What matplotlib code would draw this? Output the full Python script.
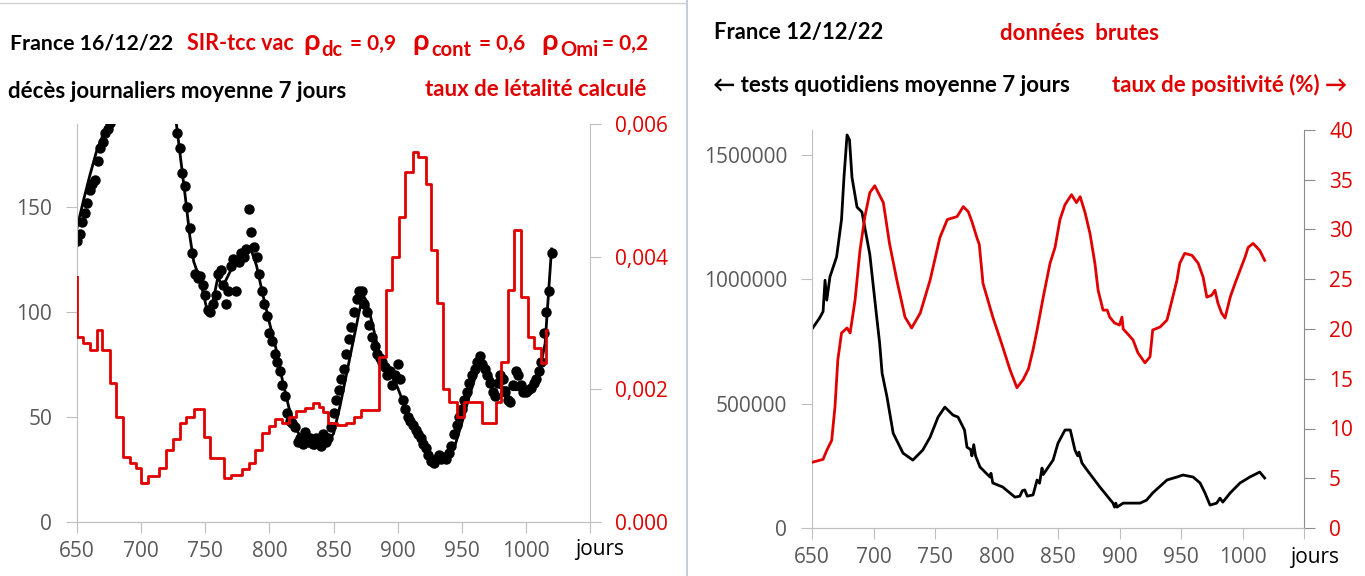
import matplotlib
matplotlib.use('Agg')
import matplotlib.pyplot as plt
from matplotlib.lines import Line2D
import numpy as np

RED = '#e00000'
GREY = '#595959'
SPINE = '#bfbfbf'

# ---- panneau gauche : décès (points + modèle) et taux de létalité ----
model_days = [650, 655, 660, 665, 670, 676, 685, 700, 715, 727,
              731, 735, 738, 741, 745, 748, 751, 754, 757, 760,
              763, 766, 770, 775, 780, 785, 790, 795, 800, 805,
              810, 815, 820, 825, 830, 835, 840, 845, 850, 855,
              860, 865, 870, 873, 876, 880, 885, 890, 895, 900,
              905, 910, 915, 920, 925, 930, 935, 940, 945, 950,
              955, 960, 963, 966, 970, 975, 980, 985, 990, 995,
              1000, 1005, 1010, 1015, 1020]
model_deaths = [140, 153, 165, 176, 184, 192, 215, 235, 225, 192,
                172, 152, 136, 124, 117, 110, 102, 100, 108, 117,
                112, 115, 120, 123, 126, 131, 122, 108, 95, 83,
                68, 55, 45, 40, 37, 35, 36, 38, 42, 55,
                70, 85, 100, 108, 105, 95, 82, 75, 70, 64,
                56, 48, 42, 37, 32, 29, 29, 31, 37, 47,
                58, 68, 73, 74, 72, 67, 64, 64, 63, 63,
                63, 65, 70, 85, 130]

# observed deaths, one dot every 2 days (the 678-726 stretch is off the top)
dot_days = np.concatenate([np.arange(650, 677, 2), np.arange(728, 1021, 2)])
dot_deaths = [134, 137, 143, 147, 152, 158, 161, 163, 172, 178, 181, 185, 187, 190,
              185, 178, 166, 160, 150, 140, 128, 118, 116, 117,
              113, 108, 101, 100, 104, 108, 118, 120, 113, 104,
              110, 122, 125, 110, 124, 128, 126, 130, 149, 138,
              131, 126, 118, 110, 104, 98, 90, 86, 80, 76,
              72, 65, 60, 52, 48, 47, 45, 38, 40, 37,
              43, 38, 40, 37, 40, 38, 36, 42, 38, 40,
              45, 52, 58, 63, 68, 73, 80, 87, 93, 100,
              106, 110, 110, 104, 100, 94, 88, 84, 80, 78,
              76, 74, 70, 72, 65, 70, 75, 68, 58, 54,
              50, 48, 46, 44, 42, 40, 37, 35, 32, 29,
              28, 30, 32, 30, 31, 30, 33, 36, 42, 46,
              50, 54, 58, 62, 66, 70, 73, 76, 79, 75,
              73, 70, 66, 62, 60, 66, 70, 68, 62, 58,
              57, 65, 72, 70, 65, 62, 62, 63, 64, 66,
              68, 72, 76, 90, 100, 110, 128]

leth_days = [650, 650.3, 654.7, 660, 665.6, 669.3, 675.5, 680.7, 686, 691,
             696, 700, 705, 714, 719.5, 724.6, 730, 735, 741, 749,
             754, 765, 770, 779, 784, 789, 794, 799.5, 804.6, 810,
             815, 821, 827.6, 834, 839, 841.8, 845.7, 853, 860, 866,
             871.5, 885.4, 890.6, 896, 901, 906, 911.7, 915.6, 922, 925.8,
             931, 935, 940, 946.6, 951.8, 966, 976.6, 980.5, 985.7, 990.9,
             996, 1001.3, 1006.5, 1011.7, 1015.6, 1016.5]
leth_rate = [0.0037, 0.00279, 0.0027, 0.00259, 0.00289, 0.00259, 0.0021, 0.00158, 0.00098, 0.00089,
             0.00081, 0.00059, 0.00069, 0.00081, 0.00109, 0.00125, 0.0015, 0.00158, 0.0017, 0.00128,
             0.00096, 0.00066, 0.00071, 0.0008, 0.00089, 0.00109, 0.00134, 0.00145, 0.00155, 0.0015,
             0.00158, 0.00167, 0.00172, 0.0018, 0.00173, 0.00166, 0.00149, 0.00146, 0.0015, 0.00158,
             0.00169, 0.00249, 0.0035, 0.004, 0.0046, 0.00528, 0.00558, 0.0055, 0.0051, 0.0041,
             0.0033, 0.002, 0.00181, 0.00158, 0.00181, 0.0015, 0.00181, 0.00241, 0.0035, 0.0044,
             0.00339, 0.00279, 0.00262, 0.0024, 0.00289, 0.00289]

# ---- panneau droit : tests quotidiens et taux de positivité ----
test_days = [650, 656, 659, 660.6, 662, 664.6, 670, 674, 676, 678.5,
             680.5, 682.5, 686.6, 690.6, 697, 702.6, 705, 707, 711, 716,
             724, 732, 740, 746, 752.5, 758, 764.6, 768.7, 774, 776,
             779, 780, 781.5, 783, 786.6, 794.7, 795.5, 797, 805, 815,
             819, 821, 823, 825, 829.7, 833, 835, 837, 838, 846,
             850, 855.7, 860, 863.8, 866, 867, 869.5, 873.6, 884, 894.7,
             896, 897, 898, 903, 916.7, 922, 927, 938.6, 946.7, 951.6,
             959.8, 965.5, 969.5, 973.6, 979, 981.7, 984, 990, 998, 1006,
             1014, 1018]
tests = [800e3, 843e3, 870e3, 996e3, 916e3, 1010e3, 1090e3, 1240e3, 1410e3, 1580e3,
         1560e3, 1410e3, 1290e3, 1270e3, 1100e3, 848e3, 743e3, 622e3, 526e3, 381e3,
         301e3, 273e3, 313e3, 365e3, 446e3, 486e3, 454e3, 446e3, 394e3, 325e3,
         315e3, 290e3, 335e3, 290e3, 245e3, 205e3, 220e3, 181e3, 165e3, 124e3,
         128e3, 150e3, 153e3, 128e3, 133e3, 193e3, 180e3, 241e3, 215e3, 273e3,
         341e3, 394e3, 394e3, 313e3, 290e3, 305e3, 261e3, 233e3, 165e3, 100e3,
         84e3, 100e3, 84e3, 100e3, 100e3, 112e3, 141e3, 193e3, 205e3, 213e3,
         205e3, 181e3, 141e3, 92e3, 100e3, 120e3, 104e3, 141e3, 181e3, 205e3,
         225e3, 201e3]

pos_days = [650, 659, 662, 666, 668.7, 671, 674, 678.5, 681, 685,
            689, 693, 697, 701, 708, 713, 719, 725.6, 731, 738,
            746, 754, 760, 768, 773, 777, 780, 784, 786, 789,
            797, 804, 811, 816.6, 821.6, 826, 829.7, 833, 838, 843.5,
            847.6, 851.6, 855.7, 861, 865, 868, 872, 876, 880, 882.6,
            886.6, 890, 892, 896, 900, 902, 903, 906, 911, 915,
            920.7, 924.8, 927, 933, 938.6, 942.7, 946.7, 949, 953, 959,
            964, 968, 971, 975, 977.6, 980, 983, 985.8, 990, 994,
            998, 1002, 1004.6, 1008.6, 1014, 1018]
positivity = [6.6, 6.9, 7.8, 8.8, 12.2, 16.9, 19.6, 20.1, 19.6, 22.9,
              27.9, 31.3, 33.7, 34.4, 32.7, 28.6, 24.9, 21.2, 20.1, 21.6,
              24.9, 29.2, 31.0, 31.3, 32.3, 31.8, 30.8, 29.2, 28.5, 24.6,
              21.2, 18.6, 15.9, 14.1, 14.9, 16.0, 17.9, 19.9, 23.2, 26.6,
              28.2, 31.0, 32.5, 33.5, 32.7, 33.3, 31.7, 29.6, 26.6, 23.9,
              21.9, 21.9, 21.2, 20.6, 20.4, 21.2, 20.0, 19.6, 18.9, 17.6,
              16.6, 17.2, 19.9, 20.2, 20.9, 22.9, 24.9, 26.6, 27.6, 27.4,
              26.6, 25.2, 23.2, 23.4, 23.9, 22.6, 21.6, 21.1, 23.2, 24.6,
              25.9, 27.2, 28.2, 28.6, 27.9, 26.9]

x_ticks = list(range(650, 1051, 50))
x_labels = [str(t) for t in x_ticks[:-1]] + ['']
leth_ticks = [0, 0.002, 0.004, 0.006]
leth_labels = ['0.000', '0,002', '0,004', '0,006']

plt.rcParams['font.family'] = ['Lato', 'DejaVu Sans']

W, H = 1365, 576
fig = plt.figure(figsize=(W / 100, H / 100), dpi=100)


def box(x0, y0, x1, y1):
    return [x0 / W, 1 - y1 / H, (x1 - x0) / W, (y1 - y0) / H]


def ftext(x, y, s, size=16, color='black', weight='bold', ha='left', **kw):
    fig.text(x / W, 1 - y / H, s, size=size, color=color, weight=weight,
             ha=ha, va='center', **kw)


def style(ax, axr, right_color):
    for a in (ax, axr):
        a.spines['top'].set_visible(False)
        a.spines['bottom'].set_color(SPINE)
    ax.spines['right'].set_visible(False)
    axr.spines['left'].set_visible(False)
    ax.spines['left'].set_color(SPINE)
    axr.spines['right'].set_color(right_color)
    ax.tick_params(axis='both', direction='out', length=8, color=SPINE,
                   labelcolor=GREY, labelsize=15, labelfontfamily='Open Sans')
    ax.tick_params(axis='y', pad=10)
    ax.tick_params(axis='x', pad=6)
    axr.tick_params(axis='y', direction='out', length=8, color=right_color,
                    labelcolor=RED, labelsize=15, pad=10, labelfontfamily='Open Sans')
    ax.set_xlim(650, 1050)
    ax.set_xticks(x_ticks)
    ax.set_xticklabels(x_labels)


# ---- gauche ----
ax1 = fig.add_axes(box(77, 124, 590, 522))
ax1r = ax1.twinx()
ax1.plot(model_days, model_deaths, color='black', lw=2)
ax1.plot(dot_days, dot_deaths, 'o', color='black', ms=6.5, mec='black')
ax1r.step(leth_days, leth_rate, where='post', color=RED, lw=2)
ax1.set_ylim(0, 189.5)
ax1.set_yticks([0, 50, 100, 150])
ax1r.set_ylim(0, 0.006)
ax1r.set_yticks(leth_ticks)
ax1r.set_yticklabels(leth_labels)
style(ax1, ax1r, SPINE)

# ---- droite ----
ax2 = fig.add_axes(box(812, 130, 1304, 528))
ax2r = ax2.twinx()
ax2.plot(test_days, tests, color='black', lw=2)
ax2r.plot(pos_days, positivity, color=RED, lw=2)
ax2.set_ylim(0, 1.6e6)
ax2.set_yticks([0, 500000, 1000000, 1500000])
ax2.set_yticklabels(['0', '500000', '1000000', '1500000'])
ax2r.set_ylim(0, 40)
ax2r.set_yticks(range(0, 41, 5))
style(ax2, ax2r, '#8c8c8c')

# ---- textes ----
ftext(10, 44, 'France 16/12/22', size=15.3)
ftext(187, 44, 'SIR-tcc vac', color=RED, size=15.5)
for x_rho, sub, x_sub, val, x_end in [(303, 'dc', 321, '= 0,9', 396),
                                      (412, 'cont', 431, '= 0,6', 525),
                                      (541, 'Omi', 560, '= 0,2', 648)]:
    ftext(x_rho, 42, 'ρ', size=21, color=RED)
    ftext(x_sub, 50, sub, size=14.5, color=RED)
    ftext(x_end, 44, val, color=RED, size=15, ha='right')
ftext(8, 92, 'décès journaliers moyenne 7 jours')
ftext(425, 90, 'taux de létalité calculé', color=RED)

ftext(714, 33, 'France 12/12/22', size=15.8)
ftext(1000, 33, 'données  brutes', color=RED)
ftext(713, 85, '← tests quotidiens moyenne 7 jours')
ftext(1112, 85, 'taux de positivité (%) →', color=RED)

ftext(575, 550, 'jours', size=15, weight='normal', family='Open Sans')
ftext(1290, 557, 'jours', size=15, weight='normal', family='Open Sans')

# séparateur entre les deux captures
fig.add_artist(Line2D([687 / W, 687 / W], [0, 1], transform=fig.transFigure,
                      color='#c5ced6', lw=1.5))
fig.add_artist(Line2D([0, 686 / W], [1 - 3 / H, 1 - 3 / H], transform=fig.transFigure,
                      color='#d0d0d0', lw=1))

fig.savefig('out.png', dpi=100)
